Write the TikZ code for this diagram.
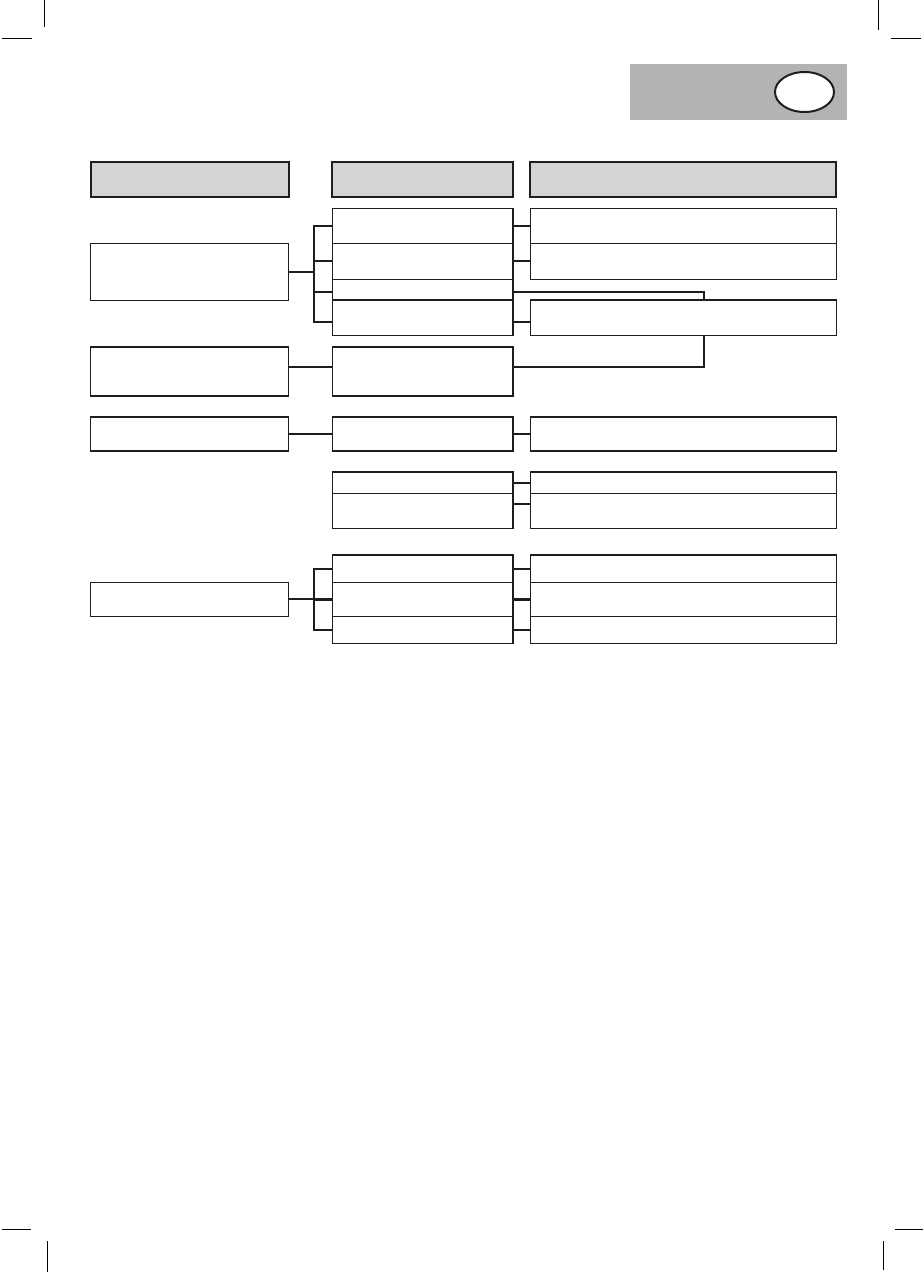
\documentclass[tikz,border=0pt]{standalone}
\usetikzlibrary{shapes.geometric,backgrounds}
\definecolor{ink}{HTML}{1E1E1E}
\definecolor{tabgray}{HTML}{B3B3B3}
\definecolor{hdrgray}{HTML}{D4D4D4}
\begin{document}
\begin{tikzpicture}[x=1pt,y=-1pt,
  box/.style={draw=ink, line width=1.3pt, fill=white, inner sep=0pt, outer sep=0pt, anchor=north west},
  hdrbox/.style={box, fill=hdrgray, line width=2.2pt},
  link/.style={draw=ink, line width=2.2pt},
  crop/.style={draw=black, line width=1pt}]
\useasboundingbox (0,0) rectangle (923,1275);
% crop marks
\draw[crop] (44.5,0) -- (44.5,27);
\draw[crop] (2,38.5) -- (32,38.5);
\draw[crop] (878,0) -- (878,30);
\draw[crop] (891,38.5) -- (921,38.5);
\draw[crop] (2,1229) -- (31,1229);
\draw[crop] (47,1241) -- (47,1272);
\draw[crop] (895,1229) -- (923,1229);
\draw[crop] (883,1241) -- (883,1270);
% tab
\node[fill=tabgray, inner sep=0pt, outer sep=0pt, anchor=north west, minimum width=217pt, minimum height=56pt] (tab) at (630,64) {};
\node[ellipse, draw=ink, fill=white, line width=2pt, inner sep=0pt, minimum width=59pt, minimum height=40pt] (oval) at (804.5,92) {};
% headers
\node[hdrbox, minimum width=198.3pt, minimum height=35.3pt] (h1) at (90.7,161.7) {};
\node[hdrbox, minimum width=181.3pt, minimum height=35.3pt] (h2) at (331.7,161.7) {};
\node[hdrbox, minimum width=306pt, minimum height=35.3pt] (h3) at (530.3,161.7) {};
% column 1
\node[box, minimum width=198pt, minimum height=57pt] (A) at (90.7,243.3) {};
\node[box, minimum width=198pt, minimum height=49pt] (B) at (90.7,347) {};
\node[box, minimum width=198pt, minimum height=34pt] (C) at (90.7,417) {};
\node[box, minimum width=198pt, minimum height=34pt] (D) at (90.7,582.3) {};
% column 2
\node[box, minimum width=180.5pt, minimum height=35pt] (b1) at (332.5,208.3) {};
\node[box, minimum width=180.5pt, minimum height=36pt] (b2) at (332.5,243.3) {};
\node[box, minimum width=180.5pt, minimum height=20.7pt] (b3) at (332.5,279.3) {};
\node[box, minimum width=180.5pt, minimum height=35.3pt] (b4) at (332.5,300) {};
\node[box, minimum width=180.5pt, minimum height=49pt] (bB) at (332.5,347) {};
\node[box, minimum width=180.5pt, minimum height=34pt] (bC) at (332.5,417) {};
\node[box, minimum width=180.5pt, minimum height=21.3pt] (b41) at (332.5,472) {};
\node[box, minimum width=180.5pt, minimum height=35pt] (b42) at (332.5,493.3) {};
\node[box, minimum width=180.5pt, minimum height=27.3pt] (b51) at (332.5,555) {};
\node[box, minimum width=180.5pt, minimum height=34.4pt] (b52) at (332.5,582.3) {};
\node[box, minimum width=180.5pt, minimum height=26.6pt] (b53) at (332.5,616.7) {};
% column 3
\node[box, minimum width=306pt, minimum height=35pt] (c1) at (530.5,208.3) {};
\node[box, minimum width=306pt, minimum height=36pt] (c2) at (530.5,243.3) {};
\node[box, minimum width=306pt, minimum height=35.3pt] (c4) at (530.5,300) {};
\node[box, minimum width=306pt, minimum height=34pt] (cC) at (530.5,417) {};
\node[box, minimum width=306pt, minimum height=21.3pt] (c41) at (530.5,472) {};
\node[box, minimum width=306pt, minimum height=35pt] (c42) at (530.5,493.3) {};
\node[box, minimum width=306pt, minimum height=27.3pt] (c51) at (530.5,555) {};
\node[box, minimum width=306pt, minimum height=34.4pt] (c52) at (530.5,582.3) {};
\node[box, minimum width=306pt, minimum height=26.6pt] (c53) at (530.5,616.7) {};
% helper coordinates
\coordinate (k1) at (314.3,0);
\coordinate (k2) at (704,0);
\coordinate (b3w) at ([yshift=-2pt]b3.west);
\coordinate (b3e) at ([yshift=-2pt]b3.east);
\coordinate (b4w) at ([yshift=-4pt]b4.west);
\coordinate (b4e) at ([yshift=-4pt]b4.east);
\coordinate (Be) at ([yshift=4.5pt]B.east);
\coordinate (bBe) at ([yshift=4.5pt]bB.east);
\coordinate (b42e) at ([yshift=6.7pt]b42.east);
\begin{scope}[on background layer]
% group 1
\draw[link] (A.east) -- (A.east -| k1);
\draw[link] (b1.west) -| (b4w -| k1) -- (b4w);
\draw[link] (b2.west -| k1) -- (b2.west);
\draw[link] (b3w -| k1) -- (b3w);
\draw[link] (b1.east) -- (c1.west);
\draw[link] (b2.east) -- (c2.west);
\draw[link] (b4e) -- (b4e -| c4.west);
\draw[link] (b3e) -| (bBe -| k2) -- (bBe);
% row B
\draw[link] (Be) -- (Be -| bB.west);
% row C
\draw[link] (C.east) -- (bC.west);
\draw[link] (bC.east) -- (cC.west);
% row 4
\draw[link] (b41.east) -- (c41.west);
\draw[link] (b42e) -- (b42e -| c42.west);
% group 5
\draw[link] (D.east) -- (D.east -| k1);
\draw[link] (b51.west) -| (b53.west -| k1) -- (b53.west);
\draw[link] (b52.west -| k1) -- (b52.west);
\draw[link] (b51.east) -- (c51.west);
\draw[link] (b52.east) -- (c52.west);
\draw[link] (b53.east) -- (c53.west);
\end{scope}
\end{tikzpicture}
\end{document}
